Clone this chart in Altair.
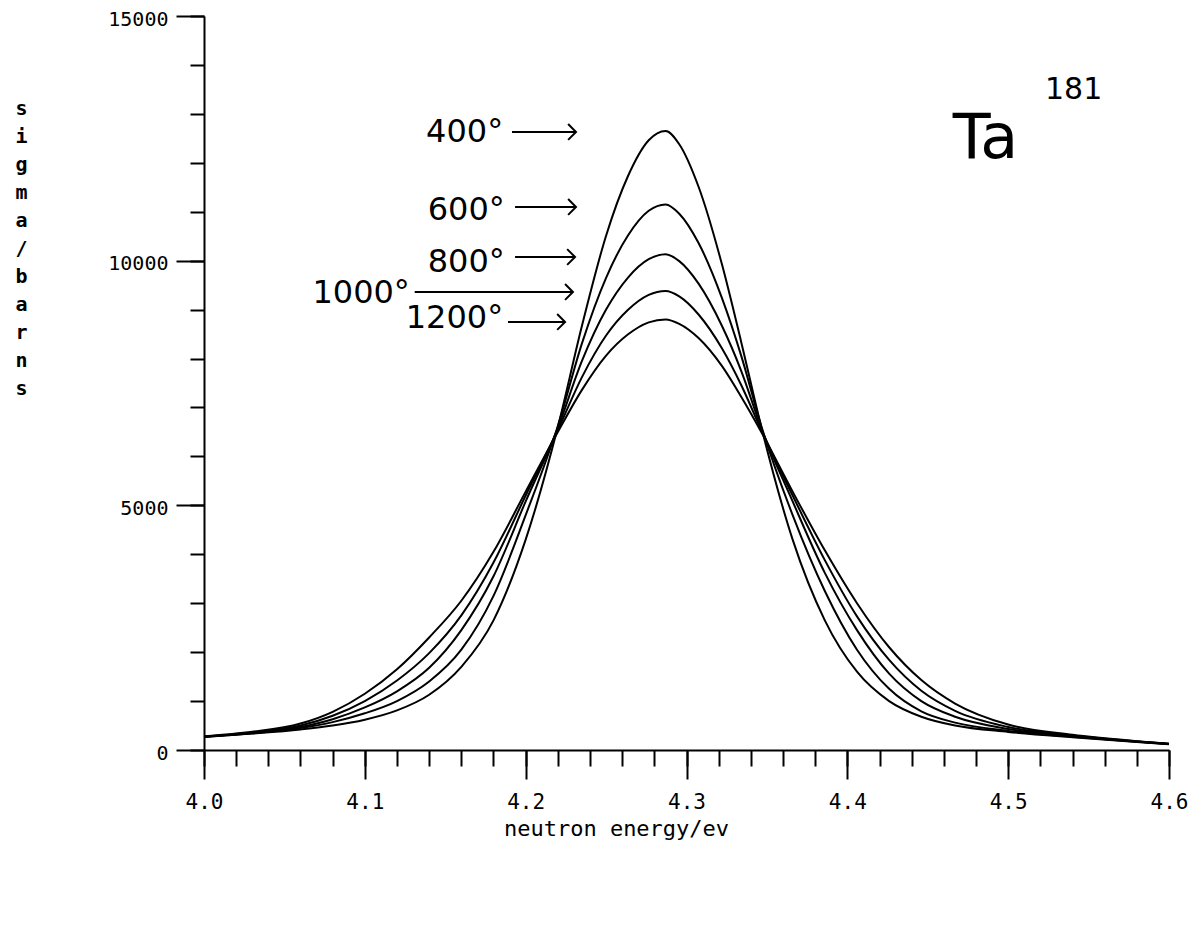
import altair as alt
import pandas as pd

# neutron energy (eV) sample points
energy = [4.00, 4.03, 4.06, 4.08, 4.10, 4.12, 4.14, 4.16, 4.18, 4.20, 4.22, 4.235, 4.25,
          4.2635, 4.2765, 4.287, 4.2955, 4.3075, 4.322, 4.334, 4.3465, 4.366, 4.386,
          4.406, 4.426, 4.446, 4.467, 4.50, 4.54, 4.58, 4.60]

# sigma (barn) for each temperature curve
s400 = [265, 335, 420, 500, 620, 810, 1130, 1700, 2650, 4300, 6600, 8670, 10510,
        11720, 12460, 12650, 12380, 11510, 9930, 8340, 6600, 4300, 2650,
        1600, 1000, 680, 500, 370, 260, 165, 120]
s600 = [268, 342, 450, 570, 750, 1000, 1400, 2050, 3150, 4800, 6620, 8310, 9650,
        10510, 11020, 11150, 10960, 10360, 9240, 8060, 6620, 4800, 3250,
        2050, 1250, 790, 560, 390, 270, 168, 122]
s800 = [272, 350, 470, 630, 870, 1200, 1680, 2450, 3550, 5080, 6580, 7950, 9000,
        9650, 10030, 10130, 9990, 9530, 8670, 7750, 6580, 5080, 3620,
        2450, 1560, 1000, 680, 430, 280, 172, 124]
s1000 = [276, 360, 500, 700, 1000, 1420, 1980, 2750, 3830, 5200, 6540, 7620, 8470,
         8990, 9300, 9380, 9270, 8900, 8210, 7460, 6540, 5200, 3880,
         2730, 1840, 1210, 800, 470, 295, 176, 126]
s1200 = [280, 372, 540, 780, 1150, 1650, 2300, 3050, 4050, 5280, 6500, 7360, 8060,
         8490, 8740, 8800, 8710, 8420, 7850, 7220, 6500, 5280, 4080,
         3000, 2100, 1430, 950, 520, 310, 180, 128]

temps = ["400", "600", "800", "1000", "1200"]
series = [s400, s600, s800, s1000, s1200]

# axis ticks
x_major = [4.0, 4.1, 4.2, 4.3, 4.4, 4.5, 4.6]
x_minor = [4.00, 4.02, 4.04, 4.06, 4.08, 4.10, 4.12, 4.14, 4.16, 4.18, 4.20, 4.22, 4.24,
           4.26, 4.28, 4.30, 4.32, 4.34, 4.36, 4.38, 4.40, 4.42, 4.44, 4.46, 4.48, 4.50,
           4.52, 4.54, 4.56, 4.58, 4.60]
y_major = [0, 5000, 10000, 15000]
y_minor = [0, 1000, 2000, 3000, 4000, 5000, 6000, 7000, 8000, 9000, 10000, 11000,
           12000, 13000, 14000, 15000]

# hand-written annotations
ann_text = ["400°", "600°", "800°", "1000°", "1200°"]
ann_x = [4.186, 4.187, 4.187, 4.128, 4.186]
ann_y = [12630, 11035, 9973, 9339, 8828]
arrow_x1 = [4.1915, 4.1934, 4.1934, 4.131, 4.189]
arrow_x2 = [4.2313, 4.2313, 4.2307, 4.2294, 4.2245]
arrow_y = [12630, 11097, 10075, 9360, 8747]

rows = []
for t, s in zip(temps, series):
    for e, v in zip(energy, s):
        rows.append({"energy": e, "sigma": v, "temp": t})
df = pd.DataFrame(rows)

xscale = alt.Scale(domain=[4.0, 4.6], nice=False, zero=False)
yscale = alt.Scale(domain=[0, 15000], nice=False, zero=False)
MONO = "DejaVu Sans Mono"
HAND = "DejaVu Sans"

lines = alt.Chart(df).mark_line(interpolate="monotone", color="black", strokeWidth=2).encode(
    x=alt.X("energy:Q", scale=xscale, axis=alt.Axis(
        orient="bottom", values=x_major, format=".1f", tickSize=29, tickWidth=2,
        tickColor="black", domainColor="black", domainWidth=2, grid=False,
        labelFont=MONO, labelFontSize=21, labelColor="black", labelPadding=12,
        labelFlush=False, labelOverlap=False,
        title="neutron energy/ev", titleFont=MONO, titleFontSize=22,
        titleFontWeight="normal", titleColor="black", titleX=412, titleY=78,
        titleAlign="center", titleBaseline="middle")),
    y=alt.Y("sigma:Q", scale=yscale, axis=alt.Axis(
        orient="left", values=y_major, format="d", tickSize=28, tickWidth=2,
        tickColor="black", domainColor="black", domainWidth=2, grid=False,
        labelFont=MONO, labelFontSize=20, labelColor="black", labelPadding=8,
        labelOffset=3, labelFlush=False, labelOverlap=False,
        title=["s", "i", "g", "m", "a", "/", "b", "a", "r", "n", "s"], titleFont=MONO,
        titleFontSize=20, titleFontWeight="bold", titleColor="black", titleAngle=0,
        titleX=-183, titleY=92, titleAlign="center", titleBaseline="middle",
        titleLineHeight=28)),
    detail="temp:N",
)

minor_x = alt.Chart(pd.DataFrame({"energy": x_minor})).mark_point(opacity=0).encode(
    x=alt.X("energy:Q", scale=xscale, axis=alt.Axis(
        orient="bottom", values=x_minor, tickSize=16, tickWidth=2, tickColor="black",
        labels=False, domain=False, grid=False, title=None)),
    y=alt.value(0),
)
minor_y = alt.Chart(pd.DataFrame({"sigma": y_minor})).mark_point(opacity=0).encode(
    y=alt.Y("sigma:Q", scale=yscale, axis=alt.Axis(
        orient="left", values=y_minor, tickSize=14, tickWidth=2, tickColor="black",
        labels=False, domain=False, grid=False, title=None)),
    x=alt.value(0),
)

ann_df = pd.DataFrame({"x": ann_x, "y": ann_y, "label": ann_text})
arr_df = pd.DataFrame({"x1": arrow_x1, "x2": arrow_x2, "y": arrow_y})

labels = alt.Chart(ann_df).mark_text(
    align="right", baseline="middle", font=HAND, fontSize=32, color="black"
).encode(
    x=alt.X("x:Q", scale=xscale, axis=None),
    y=alt.Y("y:Q", scale=yscale, axis=None),
    text="label:N",
)
rules = alt.Chart(arr_df).mark_rule(color="black", strokeWidth=2).encode(
    x=alt.X("x1:Q", scale=xscale, axis=None),
    x2="x2:Q",
    y=alt.Y("y:Q", scale=yscale, axis=None),
)
heads = alt.Chart(arr_df).mark_point(
    shape="M-1,-1L0,0L-1,1", filled=False, size=250, color="black", strokeWidth=2, opacity=1
).encode(
    x=alt.X("x2:Q", scale=xscale, axis=None),
    y=alt.Y("y:Q", scale=yscale, axis=None),
)

ta_df = pd.DataFrame({"x": [4.4655], "y": [12100], "t": ["Ta"]})
sup_df = pd.DataFrame({"x": [4.5229], "y": [13300], "t": ["181"]})
ta = alt.Chart(ta_df).mark_text(
    align="left", baseline="alphabetic", font=HAND, fontSize=62, color="black"
).encode(
    x=alt.X("x:Q", scale=xscale, axis=None),
    y=alt.Y("y:Q", scale=yscale, axis=None),
    text="t:N",
)
sup = alt.Chart(sup_df).mark_text(
    align="left", baseline="alphabetic", font=HAND, fontSize=30, color="black"
).encode(
    x=alt.X("x:Q", scale=xscale, axis=None),
    y=alt.Y("y:Q", scale=yscale, axis=None),
    text="t:N",
)

chart = alt.layer(lines, minor_x, minor_y, rules, heads, labels, ta, sup).properties(
    width=965, height=734,
    padding={"left": 196, "top": 8, "right": 20, "bottom": 173},
    autosize=alt.AutoSizeParams(type="none"),
    background="white",
).resolve_axis(x="independent", y="independent").configure_view(stroke="transparent")

chart.save("out.html", embed_options={"renderer": "svg", "actions": False})
